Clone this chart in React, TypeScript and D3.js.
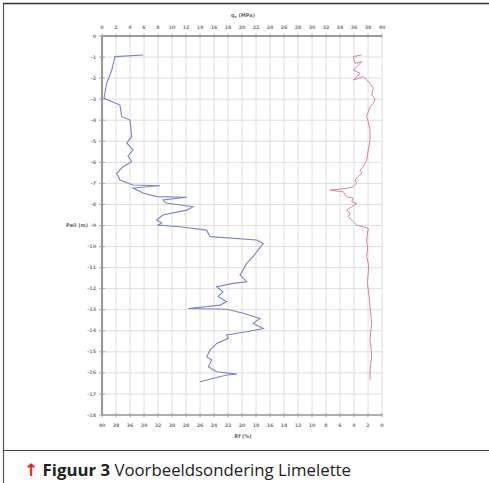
import * as d3 from "d3";

// qc (MPa) readings along depth (m below top)
const qcDepth = [0.9, 0.98, 1.62, 1.85, 2.23, 2.96, 3.28, 3.83, 3.99, 4.78, 5.08, 5.42, 5.7, 5.97, 6.21, 6.52, 6.84, 7.08, 7.11, 7.22, 7.46, 7.63, 7.66, 7.79, 7.93, 8.11, 8.27, 8.5, 8.74, 8.88, 8.98, 9.06, 9.22, 9.53, 9.69, 9.85, 10.17, 10.48, 10.8, 11.12, 11.35, 11.67, 11.75, 11.91, 12.15, 12.38, 12.62, 12.78, 12.94, 12.98, 13.17, 13.41, 13.65, 13.89, 14.05, 14.2, 14.36, 14.6, 14.92, 15.24, 15.39, 15.71, 15.95, 16.06, 16.1, 16.42];
const qcValues = [5.9, 1.86, 1.39, 1.14, 0.67, 0.29, 2.57, 2.81, 4.0, 4.24, 3.53, 4.43, 3.71, 4.24, 3.0, 2.1, 2.57, 4.43, 8.29, 4.43, 5.86, 7.81, 12.1, 8.71, 9.14, 13.0, 12.1, 8.71, 7.81, 8.53, 8.0, 11.1, 14.96, 15.43, 22.1, 23.04, 22.29, 21.57, 20.67, 20.14, 19.71, 20.67, 18.71, 16.39, 17.29, 16.61, 17.81, 16.86, 12.33, 17.81, 20.19, 22.57, 21.61, 23.04, 20.67, 17.81, 18.04, 16.39, 15.43, 14.96, 15.67, 15.19, 16.39, 19.24, 17.81, 14.0];

// Rf (%) readings along depth
const rfDepth = [0.9, 0.98, 1.3, 1.22, 1.62, 1.77, 2.09, 1.93, 2.25, 2.48, 2.8, 2.96, 3.2, 3.36, 3.83, 4.07, 4.47, 4.94, 5.42, 5.89, 6.05, 6.21, 6.37, 6.52, 6.68, 6.84, 7.0, 7.16, 7.24, 7.32, 7.4, 7.63, 7.71, 7.87, 7.95, 8.11, 8.27, 8.42, 8.58, 8.82, 8.98, 9.06, 9.14, 9.69, 10.08, 10.48, 10.9, 11.27, 11.7, 12.07, 12.5, 12.86, 13.25, 13.65, 14.05, 14.44, 14.85, 15.24, 15.6, 16.02, 16.34];
const rfValues = [2.9, 4.1, 3.86, 2.9, 4.1, 3.14, 4.1, 2.67, 1.71, 1.24, 1.47, 1.0, 1.24, 1.71, 2.19, 1.96, 1.71, 1.71, 1.96, 2.19, 2.43, 2.67, 3.14, 2.9, 3.38, 3.86, 3.61, 4.1, 5.04, 7.43, 5.53, 5.04, 4.1, 4.33, 3.61, 4.33, 5.04, 4.57, 4.81, 4.1, 3.61, 2.67, 1.96, 2.19, 2.05, 2.19, 1.9, 1.96, 2.1, 1.96, 1.8, 1.71, 1.6, 1.47, 1.62, 1.71, 1.55, 1.47, 1.65, 1.71, 1.71];

const qcTicks = d3.range(0, 41, 2);
const rfTicks = d3.range(40, -1, -2);
const depthTicks = d3.range(0, 19, 1);
const depthLabels = depthTicks.map((d) => (d === 0 ? "0" : `-${d}`));

export default function App() {
  const W = 489;
  const H = 483;

  const xQc = d3.scaleLinear().domain([0, 40]).range([102, 382]);
  const xRf = d3.scaleLinear().domain([40, 0]).range([102, 382]);
  const y = d3.scaleLinear().domain([0, 18]).range([36, 415]);

  const qcLine = d3
    .line<number>()
    .x((d) => xQc(d))
    .y((_, i) => y(qcDepth[i]));
  const rfLine = d3
    .line<number>()
    .x((d) => xRf(d))
    .y((_, i) => y(rfDepth[i]));

  const tickFont = "DejaVu Sans, sans-serif";

  return (
    <svg
      width={W}
      height={H}
      style={{ position: "absolute", left: 0, top: 0, background: "#fff" }}
    >
      {/* frame */}
      <line x1={3} x2={W} y1={3.5} y2={3.5} stroke="#333" strokeWidth={1.5} />
      <line x1={3.5} x2={3.5} y1={3} y2={H} stroke="#555" strokeWidth={1.2} />
      <line x1={3} x2={W} y1={450.5} y2={450.5} stroke="#444" strokeWidth={1.2} />

      {/* grid */}
      <g stroke="#d6d6d6" strokeWidth={0.8}>
        {qcTicks.map((t) => (
          <line key={"gx" + t} x1={xQc(t)} x2={xQc(t)} y1={y(0)} y2={y(18)} />
        ))}
        {depthTicks.map((t) => (
          <line key={"gy" + t} x1={xQc(0)} x2={xQc(40)} y1={y(t)} y2={y(t)} />
        ))}
      </g>

      {/* axes */}
      <g stroke="#9a9a9a">
        <line x1={xQc(0)} x2={xQc(40)} y1={y(0)} y2={y(0)} strokeWidth={1.8} />
        <line x1={xQc(0)} x2={xQc(40)} y1={y(18)} y2={y(18)} strokeWidth={1.4} />
        <line x1={xQc(0)} x2={xQc(0)} y1={y(0)} y2={y(18)} strokeWidth={2.2} />
        {qcTicks.map((t) => (
          <line key={"tt" + t} x1={xQc(t)} x2={xQc(t)} y1={y(0) - 2.5} y2={y(0) + 2} strokeWidth={0.8} />
        ))}
        {rfTicks.map((t) => (
          <line key={"tb" + t} x1={xRf(t)} x2={xRf(t)} y1={y(18) - 2} y2={y(18) + 2.5} strokeWidth={0.8} />
        ))}
        {depthTicks.map((t) => (
          <line key={"tl" + t} x1={xQc(0) - 3} x2={xQc(0) + 3} y1={y(t)} y2={y(t)} strokeWidth={0.8} />
        ))}
      </g>

      {/* tick labels */}
      <g fontFamily={tickFont} fontSize={4.8} fontWeight="bold" fill="#7e7e7e" textAnchor="middle">
        {qcTicks.map((t) => (
          <text key={"lt" + t} x={xQc(t)} y={29}>
            {t}
          </text>
        ))}
        {rfTicks.map((t) => (
          <text key={"lb" + t} x={xRf(t)} y={427}>
            {t}
          </text>
        ))}
        {depthTicks.map((t, i) => (
          <text key={"ll" + t} x={96} y={y(t) + 1.6} textAnchor="end">
            {depthLabels[i]}
          </text>
        ))}
      </g>

      {/* axis titles */}
      <g fontFamily={tickFont} fontSize={5} fontWeight="bold" fill="#666">
        <text x={243} y={17} textAnchor="middle">
          q<tspan fontSize={3.5} dy={1}>c</tspan>
          <tspan dy={-1}> (MPa)</tspan>
        </text>
        <text x={243} y={438} textAnchor="middle">
          Rf (%)
        </text>
        <text x={88} y={y(9) + 1.8} textAnchor="end">
          Peil (m)
        </text>
      </g>

      {/* curves */}
      <path d={qcLine(qcValues) ?? ""} fill="none" stroke="#7a84c8" strokeWidth={1.1} />
      <path d={rfLine(rfValues) ?? ""} fill="none" stroke="#d8709c" strokeWidth={0.9} />

      {/* caption */}
      <text x={24} y={476} fontFamily="Open Sans, sans-serif" fontSize={16.8} fill="#222">
        <tspan fill="#e0241b" fontWeight="bold" fontFamily="DejaVu Sans, sans-serif" fontSize={17}>↑</tspan>
        <tspan fontWeight="bold"> Figuur 3</tspan>
        <tspan> Voorbeeldsondering Limelette</tspan>
      </text>
    </svg>
  );
}
